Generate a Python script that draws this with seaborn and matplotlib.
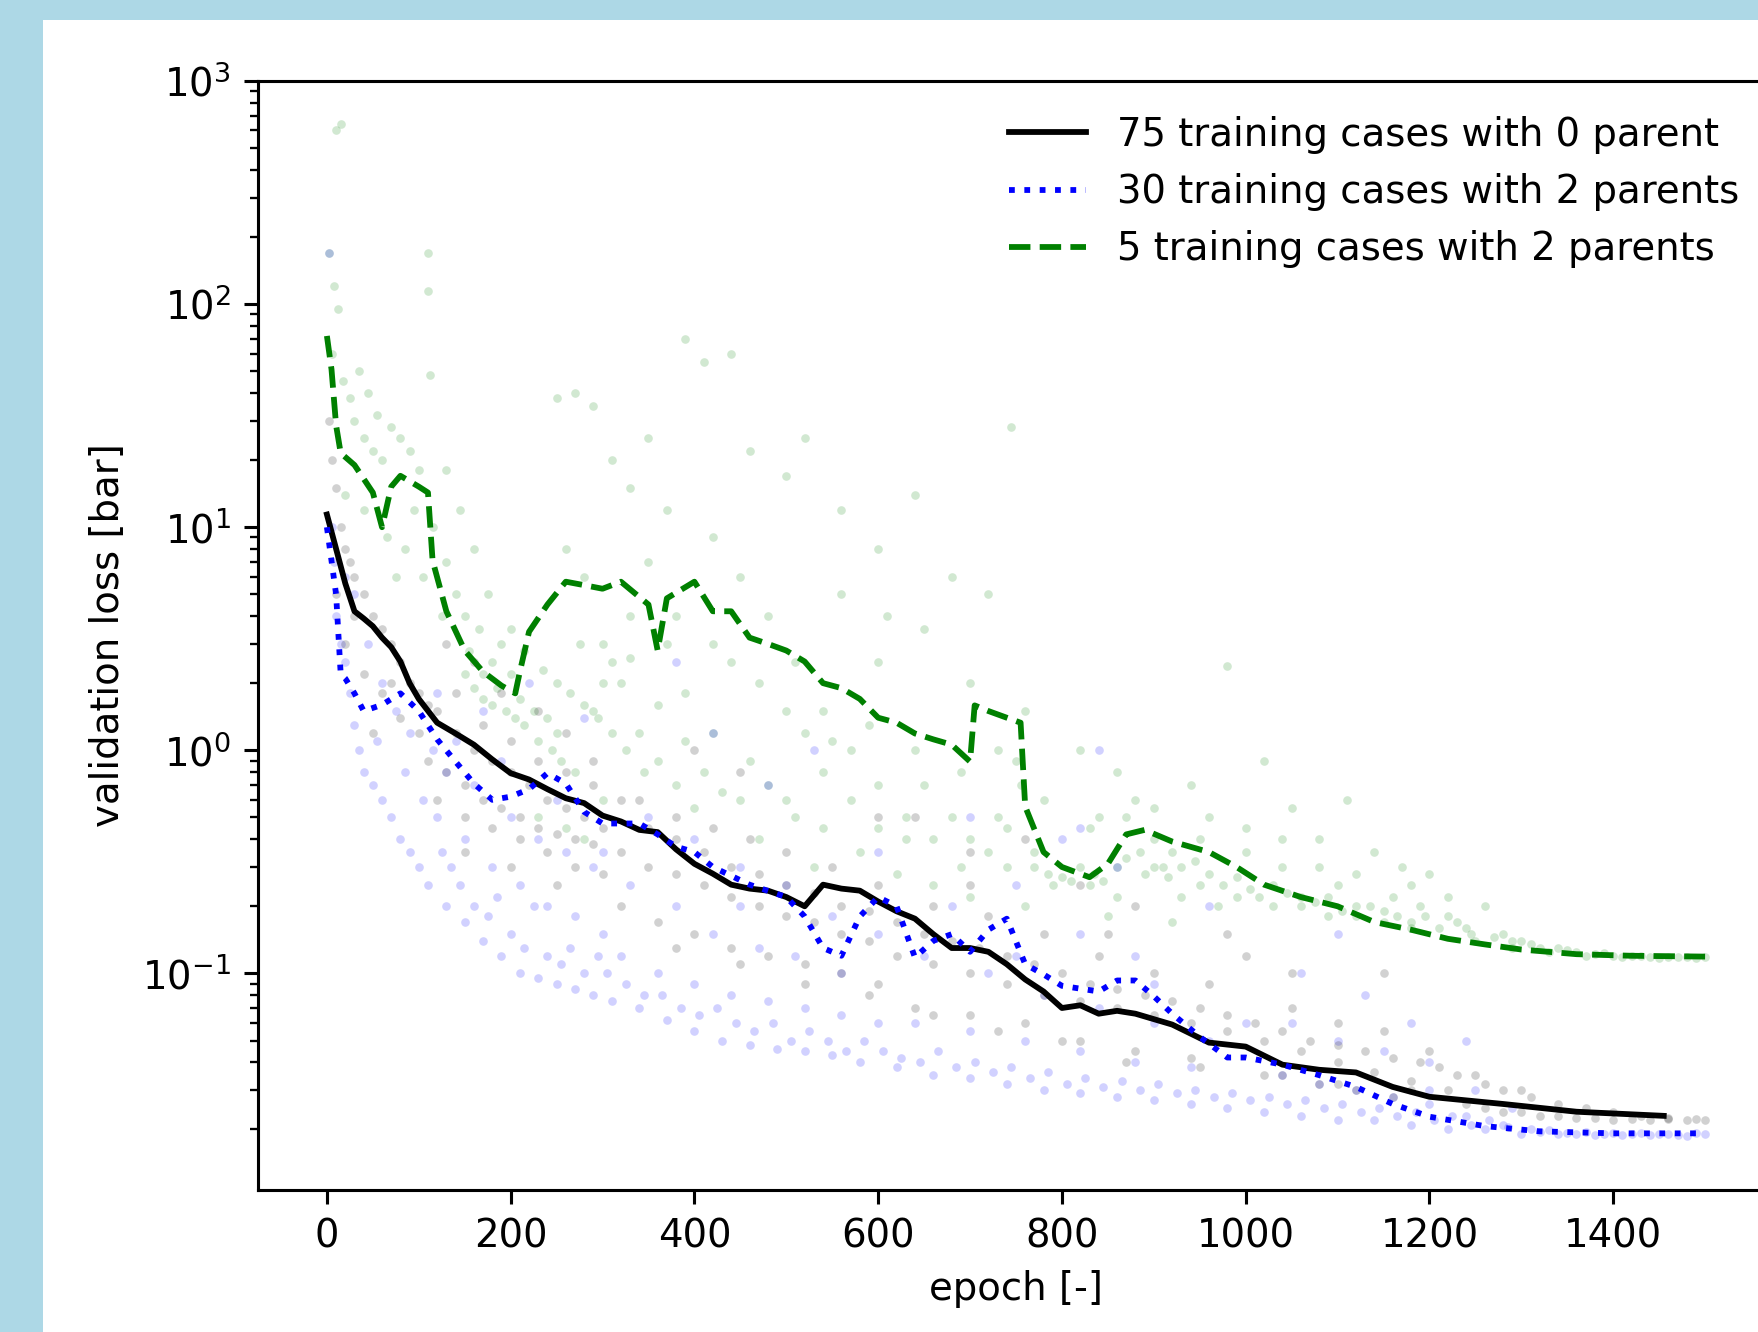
import numpy as np
import matplotlib
matplotlib.use('Agg')
import matplotlib.pyplot as plt
import seaborn as sns
from matplotlib.patches import Rectangle


# ---------------------------------------------------------------- lines
black_x = [0, 10, 20, 30, 40, 50, 60, 70, 80, 90, 100, 120, 140, 160, 180, 200, 220, 240, 260, 280,
           300, 320, 340, 360, 380, 400, 420, 440, 460, 480, 500, 520, 540, 560, 580, 600, 620, 640,
           660, 680, 700, 720, 740, 760, 780, 800, 820, 840, 860, 880, 920, 960, 1000, 1040, 1080,
           1120, 1160, 1200, 1280, 1360, 1455]
black_y = [11.4, 8, 5.6, 4.2, 3.9, 3.6, 3.2, 2.9, 2.5, 2.0, 1.7, 1.33, 1.19, 1.06, 0.91, 0.79, 0.74,
           0.67, 0.61, 0.58, 0.51, 0.48, 0.44, 0.43, 0.36, 0.31, 0.28, 0.25, 0.24, 0.235, 0.22, 0.2,
           0.25, 0.24, 0.235, 0.21, 0.19, 0.176, 0.15, 0.13, 0.13, 0.125, 0.11, 0.094, 0.083, 0.07,
           0.072, 0.066, 0.068, 0.066, 0.059, 0.049, 0.047, 0.039, 0.037, 0.036, 0.031, 0.028,
           0.026, 0.024, 0.023]

blue_x = [0, 10, 15, 20, 30, 40, 60, 80, 100, 120, 140, 160, 180, 200, 220, 240, 260, 280, 300,
          340, 360, 380, 400, 420, 460, 500, 520, 540, 560, 580, 600, 620, 640, 660, 680, 700, 720,
          740, 760, 780, 800, 840, 860, 880, 900, 920, 950, 980, 1000, 1040, 1080, 1120, 1160,
          1200, 1260, 1320, 1400, 1500]
blue_y = [10, 5, 2.2, 2.1, 1.8, 1.5, 1.6, 1.8, 1.5, 1.12, 0.89, 0.71, 0.6, 0.62, 0.67, 0.79, 0.71,
          0.53, 0.47, 0.47, 0.42, 0.37, 0.35, 0.3, 0.25, 0.22, 0.18, 0.13, 0.12, 0.18, 0.22, 0.2,
          0.118, 0.14, 0.15, 0.125, 0.157, 0.176, 0.11, 0.099, 0.088, 0.083, 0.093, 0.093, 0.079,
          0.066, 0.052, 0.042, 0.042, 0.039, 0.035, 0.031, 0.026, 0.0228, 0.0207, 0.0196, 0.0192,
          0.0192]

green_x = [0, 5, 10, 15, 30, 50, 60, 70, 80, 100, 110, 115, 130, 150, 170, 190, 205, 210, 220, 240,
           260, 280, 300, 320, 350, 360, 370, 400, 420, 440, 460, 480, 500, 520, 540, 560, 580, 600,
           620, 640, 660, 680, 700, 705, 720, 740, 755, 760, 780, 800, 830, 850, 870, 890, 920, 960,
           990, 1020, 1060, 1100, 1140, 1180, 1220, 1260, 1300, 1360, 1420, 1500]
green_y = [72, 51, 28.6, 21.5, 19, 14.3, 10, 15.2, 17, 15.2, 14.3, 7.1, 4.2, 2.8, 2.25, 1.95, 1.8,
           2.25, 3.4, 4.5, 5.7, 5.5, 5.3, 5.7, 4.5, 2.8, 4.8, 5.7, 4.2, 4.2, 3.2, 3.0, 2.8, 2.5, 2.0,
           1.9, 1.7, 1.4, 1.33, 1.19, 1.12, 1.06, 0.89, 1.59, 1.5, 1.4, 1.33, 0.56, 0.35, 0.30, 0.27,
           0.31, 0.42, 0.44, 0.39, 0.35, 0.30, 0.25, 0.22, 0.20, 0.17, 0.157, 0.143, 0.135, 0.128,
           0.122, 0.12, 0.119]

# ---------------------------------------------------------------- scatter clouds
green_pts = [(2, 170), (10, 600), (15, 640), (8, 120), (12, 95), (5, 60), (18, 45), (25, 38), (30, 30),
             (40, 25), (50, 22), (60, 20), (35, 50), (45, 40), (55, 32), (70, 28), (80, 25), (90, 22),
             (110, 170), (110, 115), (112, 48), (100, 18), (20, 14), (40, 12), (65, 9), (85, 8), (95, 12),
             (115, 10), (75, 6), (105, 6), (130, 7), (140, 5), (150, 4), (165, 3.5), (180, 2.5), (200, 2.2),
             (190, 3), (175, 5), (160, 8), (145, 12), (130, 18), (125, 4), (155, 2.8), (170, 2.2),
             (185, 1.9), (210, 1.7), (225, 1.5), (240, 1.4),
             (250, 38), (270, 40), (290, 35), (310, 20), (330, 15), (350, 25), (370, 12), (390, 70),
             (260, 8), (280, 6), (300, 3), (320, 2), (340, 1.2), (360, 0.9), (380, 0.7), (400, 0.55),
             (250, 1.2), (270, 0.8), (290, 1.5), (310, 2.5), (330, 4), (350, 7), (370, 3), (390, 1.8),
             (230, 0.5), (260, 0.45), (300, 0.6), (280, 0.4),
             (410, 55), (440, 60), (460, 22), (500, 17), (520, 25), (560, 12), (600, 8), (640, 14),
             (680, 6), (420, 9), (450, 6), (480, 4), (510, 2.5), (540, 1.5), (570, 1), (600, 0.7),
             (630, 0.5), (660, 0.4), (690, 0.3), (420, 1.2), (460, 0.9), (500, 0.6), (540, 0.45),
             (580, 0.35), (620, 0.28), (660, 0.25), (700, 0.22), (440, 2.5), (520, 1.2), (600, 2.5),
             (650, 3.5), (700, 2), (560, 5), (610, 4), (470, 0.4), (530, 0.3),
             (720, 5), (745, 28), (760, 1.5), (780, 0.6), (770, 0.35), (790, 0.25), (730, 0.5),
             (750, 0.9), (760, 0.2), (740, 0.3),
             (820, 1), (840, 0.5), (860, 0.8), (880, 0.6), (900, 0.4), (920, 0.35), (940, 0.7),
             (960, 0.5), (980, 2.4), (1000, 0.45), (830, 0.25), (860, 0.22), (890, 0.28), (910, 0.3),
             (930, 0.22), (950, 0.25), (970, 0.2), (990, 0.22), (850, 0.18), (920, 0.17),
             (1020, 0.9), (1050, 0.55), (1080, 0.4), (1110, 0.6), (1140, 0.35), (1170, 0.3), (1200, 0.28),
             (1030, 0.2), (1060, 0.22), (1090, 0.18), (1120, 0.2), (1150, 0.17), (1180, 0.16),
             (1040, 0.3), (1100, 0.25), (1160, 0.22), (1190, 0.2),
             (1220, 0.18), (1240, 0.16), (1260, 0.2), (1280, 0.15), (1300, 0.14), (1320, 0.13),
             (1340, 0.13), (1360, 0.125), (1380, 0.122), (1400, 0.12), (1420, 0.12), (1440, 0.119),
             (1460, 0.118), (1480, 0.118), (1500, 0.118), (1250, 0.14), (1290, 0.13), (1330, 0.125),
             (1370, 0.12), (1410, 0.118), (1450, 0.117), (1490, 0.117),
             # denser band under the dashed line
             (150, 2.2), (160, 1.9), (170, 1.7), (180, 1.6), (195, 1.5), (205, 1.4), (215, 1.3),
             (230, 1.1), (245, 1), (255, 0.9), (200, 3.5), (215, 2.8), (235, 2.3), (250, 2), (265, 1.8),
             (280, 1.6), (295, 1.4), (310, 1.2), (325, 1), (345, 0.8), (275, 3), (300, 2), (330, 2.6),
             (360, 1.6), (390, 1.1), (410, 0.8), (430, 0.65), (450, 0.6), (480, 0.7), (510, 0.5),
             (540, 0.8), (570, 0.6), (600, 0.45), (630, 0.4), (650, 0.7), (680, 0.5), (700, 0.4),
             (720, 0.35), (740, 0.45), (380, 4), (420, 3), (470, 2), (500, 1.5), (550, 1.1), (590, 1.3),
             (640, 1), (690, 0.8), (730, 1), (755, 0.7),
             (770, 0.3), (785, 0.28), (800, 0.27), (810, 0.26), (820, 0.3), (835, 0.28), (845, 0.26),
             (860, 0.3), (870, 0.33), (885, 0.35), (900, 0.3), (915, 0.27), (930, 0.3), (945, 0.32),
             (960, 0.28), (975, 0.25), (990, 0.27), (1005, 0.24), (1015, 0.22), (1030, 0.25),
             (1045, 0.23), (1060, 0.2), (1075, 0.21), (1090, 0.22), (1105, 0.19), (1120, 0.18),
             (1135, 0.2), (1150, 0.19), (1165, 0.18), (1180, 0.17), (1195, 0.18), (1210, 0.16),
             (1230, 0.17), (1245, 0.15), (1270, 0.145), (1290, 0.14), (1310, 0.135), (1350, 0.128),
             (1390, 0.123), (1430, 0.12), (1470, 0.118),
             (830, 0.45), (870, 0.5), (900, 0.55), (950, 0.4), (1000, 0.35), (1040, 0.4), (1080, 0.3),
             (1120, 0.28), (1180, 0.25), (1220, 0.22)]

blue_pts = [(2, 170), (5, 10), (8, 7), (10, 4), (15, 3), (20, 2.5), (25, 1.8), (30, 1.3), (35, 1),
            (40, 0.8), (50, 0.7), (60, 0.6), (70, 0.5), (80, 0.4), (90, 0.35), (100, 0.3), (30, 5),
            (45, 3), (60, 2), (75, 1.5), (90, 1.2), (55, 1.1), (85, 0.8), (20, 6),
            (110, 0.25), (130, 0.2), (150, 0.17), (170, 0.14), (190, 0.12), (210, 0.1), (230, 0.095),
            (250, 0.09), (270, 0.085), (290, 0.08), (120, 0.5), (150, 0.4), (180, 0.3), (210, 0.25),
            (240, 0.2), (270, 0.18), (300, 0.15), (130, 0.8), (160, 0.7), (200, 0.5), (230, 0.4),
            (260, 0.35), (290, 0.3), (140, 1.1), (190, 0.9), (250, 0.6), (220, 2), (280, 1.4),
            (170, 1.5), (120, 1.8),
            (310, 0.075), (340, 0.07), (370, 0.062), (400, 0.055), (430, 0.05), (460, 0.048),
            (490, 0.046), (520, 0.045), (550, 0.043), (580, 0.04), (320, 0.12), (360, 0.1), (400, 0.09),
            (440, 0.08), (480, 0.075), (520, 0.07), (560, 0.065), (600, 0.06), (330, 0.25), (380, 0.2),
            (420, 0.15), (470, 0.13), (510, 0.12), (560, 0.1), (350, 0.5), (400, 0.4), (450, 0.3),
            (500, 0.25), (550, 0.18), (420, 1.2), (480, 0.7), (600, 0.35), (380, 2.5), (530, 1),
            (620, 0.038), (660, 0.035), (700, 0.034), (740, 0.032), (780, 0.03), (820, 0.029),
            (860, 0.028), (900, 0.027), (940, 0.026), (980, 0.025), (640, 0.06), (700, 0.055),
            (760, 0.05), (820, 0.045), (880, 0.04), (940, 0.038), (650, 0.12), (720, 0.1), (780, 0.08),
            (840, 0.07), (900, 0.06), (960, 0.05), (680, 0.2), (750, 0.25), (820, 0.15), (880, 0.12),
            (700, 0.5), (800, 0.4), (860, 0.3), (960, 0.2), (840, 1), (820, 0.45),
            (1020, 0.024), (1060, 0.023), (1100, 0.022), (1140, 0.022), (1180, 0.021), (1220, 0.02),
            (1040, 0.035), (1080, 0.032), (1120, 0.03), (1160, 0.028), (1200, 0.026), (1050, 0.06),
            (1100, 0.05), (1150, 0.045), (1200, 0.04), (1060, 0.1), (1130, 0.08), (1180, 0.06),
            (1240, 0.023), (1260, 0.02), (1280, 0.021), (1300, 0.019), (1320, 0.0195), (1340, 0.019),
            (1360, 0.019), (1380, 0.0188), (1400, 0.0192), (1420, 0.019), (1440, 0.0188), (1460, 0.019),
            (1480, 0.0187), (1500, 0.019), (1250, 0.03), (1290, 0.025), (1100, 0.15), (1240, 0.05),
            # denser lower edge
            (105, 0.6), (115, 1), (125, 0.35), (135, 0.3), (145, 0.25), (160, 0.2), (175, 0.18),
            (185, 0.22), (200, 0.15), (215, 0.13), (225, 0.2), (240, 0.12), (255, 0.11), (265, 0.13),
            (280, 0.1), (295, 0.12), (305, 0.1), (325, 0.09), (345, 0.08), (365, 0.08), (385, 0.07),
            (405, 0.065), (425, 0.07), (445, 0.06), (465, 0.055), (485, 0.06), (505, 0.05), (525, 0.055),
            (545, 0.05), (565, 0.045), (585, 0.05), (605, 0.045), (625, 0.042), (645, 0.04), (665, 0.045),
            (685, 0.038), (705, 0.04), (725, 0.036), (745, 0.038), (765, 0.034), (785, 0.036),
            (805, 0.032), (825, 0.034), (845, 0.031), (865, 0.033), (885, 0.03), (905, 0.032),
            (925, 0.029), (945, 0.03), (965, 0.028), (985, 0.029), (1005, 0.027), (1025, 0.028),
            (1045, 0.026), (1065, 0.027), (1085, 0.025), (1105, 0.026), (1125, 0.024), (1145, 0.025),
            (1165, 0.023), (1185, 0.024), (1205, 0.022), (1225, 0.023), (1245, 0.021), (1265, 0.022),
            (1285, 0.0205), (1310, 0.02), (1330, 0.0198), (1350, 0.0192), (1370, 0.0195), (1390, 0.019),
            (1410, 0.0188), (1430, 0.0192), (1450, 0.019), (1470, 0.0188), (1490, 0.0192),
            (300, 0.35), (450, 0.2), (600, 0.15), (750, 0.12), (900, 0.09), (1000, 0.06), (1200, 0.03)]

black_pts = [(2, 30), (5, 20), (10, 15), (15, 10), (20, 8), (25, 7), (30, 6), (40, 5), (50, 4),
             (60, 3.5), (70, 3), (80, 2.5), (90, 2), (100, 1.8), (20, 3), (40, 2.2), (60, 1.8), (80, 1.4),
             (100, 1.2), (30, 4), (50, 1.2), (70, 2), (10, 5),
             (120, 1.5), (140, 1.2), (160, 1), (180, 0.9), (200, 0.8), (220, 0.7), (240, 0.6),
             (260, 0.55), (280, 0.5), (300, 0.45), (120, 0.6), (150, 0.5), (180, 0.45), (210, 0.4),
             (240, 0.35), (270, 0.3), (300, 0.28), (130, 3), (160, 2.5), (190, 1.8), (230, 1.5),
             (260, 1.2), (290, 0.9), (150, 0.35), (200, 0.3), (250, 0.25),
             (320, 0.35), (350, 0.3), (380, 0.28), (410, 0.25), (440, 0.22), (470, 0.2), (500, 0.18),
             (530, 0.17), (560, 0.15), (590, 0.14), (320, 0.2), (360, 0.17), (400, 0.15), (440, 0.13),
             (480, 0.12), (520, 0.11), (560, 0.1), (600, 0.09), (340, 0.6), (380, 0.5), (420, 0.45),
             (460, 0.4), (500, 0.35), (550, 0.3), (600, 0.25), (450, 0.8), (400, 1),
             (620, 0.12), (660, 0.11), (700, 0.1), (740, 0.09), (780, 0.08), (820, 0.075), (860, 0.07),
             (900, 0.065), (940, 0.06), (980, 0.055), (640, 0.07), (700, 0.065), (760, 0.06),
             (820, 0.05), (880, 0.045), (940, 0.042), (660, 0.2), (720, 0.18), (780, 0.15), (840, 0.12),
             (900, 0.1), (960, 0.09), (700, 0.35), (760, 0.4), (820, 0.25), (880, 0.2), (640, 0.5),
             (980, 0.15),
             (1020, 0.05), (1060, 0.045), (1100, 0.04), (1140, 0.036), (1180, 0.033), (1220, 0.03),
             (1040, 0.035), (1080, 0.032), (1120, 0.03), (1160, 0.028), (1050, 0.07), (1100, 0.06),
             (1150, 0.055), (1200, 0.045), (1250, 0.035), (1300, 0.03), (1240, 0.026), (1260, 0.025),
             (1280, 0.024), (1300, 0.024), (1320, 0.023), (1340, 0.023), (1360, 0.0225), (1380, 0.0225),
             (1400, 0.022), (1420, 0.0222), (1440, 0.022), (1460, 0.0222), (1480, 0.022), (1500, 0.022),
             (1150, 0.1), (1000, 0.12),
             # denser middle band
             (110, 0.9), (130, 0.8), (150, 0.7), (170, 0.6), (190, 0.55), (210, 0.5), (230, 0.45),
             (250, 0.42), (270, 0.4), (290, 0.38), (110, 1.6), (140, 1.8), (170, 1.3), (200, 1.1),
             (230, 0.9), (260, 0.8), (290, 0.7), (320, 0.6), (350, 0.45), (380, 0.4), (410, 0.35),
             (440, 0.3), (470, 0.28), (500, 0.25), (530, 0.23), (560, 0.2), (590, 0.19), (620, 0.17),
             (650, 0.15), (680, 0.14), (710, 0.13), (740, 0.12), (770, 0.11), (800, 0.1), (830, 0.09),
             (860, 0.085), (890, 0.08), (920, 0.075), (950, 0.07), (980, 0.065), (1010, 0.06),
             (1040, 0.055), (1070, 0.05), (1100, 0.048), (1130, 0.045), (1160, 0.042), (1190, 0.04),
             (1210, 0.038), (1230, 0.035), (1260, 0.032), (1280, 0.03), (1310, 0.028), (1340, 0.026),
             (1370, 0.025), (1400, 0.024), (1430, 0.023), (1460, 0.0225), (1490, 0.0222),
             (380, 0.13), (450, 0.11), (520, 0.09), (590, 0.08), (660, 0.065), (730, 0.055), (800, 0.05),
             (870, 0.04), (950, 0.038), (1020, 0.035), (1100, 0.032), (1180, 0.03), (600, 0.5),
             (700, 0.25), (850, 0.15), (1050, 0.1)]

labels = ['75 training cases with 0 parent',
          '30 training cases with 2 parents',
          '5 training cases with 2 parents']


# ---------------------------------------------------------------- figure
DPI = 278
fig = plt.figure(figsize=(1758 / DPI, 1332 / DPI), dpi=DPI, facecolor='#add8e6')
# white canvas of the original image, shifted and cut off at the right
fig.patches.append(Rectangle((43 / 1758, 0), 1, 1 - 20 / 1332, transform=fig.transFigure,
                             facecolor='white', edgecolor='none', zorder=-10))

ax = fig.add_axes([258 / 1758, 1 - 1190 / 1332, (1774 - 258) / 1758, (1190 - 81) / 1332])
ax.set_zorder(1)

for pts, col in [(green_pts, 'green'), (blue_pts, 'blue'), (black_pts, 'black')]:
    px, py = zip(*pts)
    sns.scatterplot(x=list(px), y=list(py), color=col, alpha=0.18, s=5, linewidth=0, ax=ax)

sns.lineplot(x=black_x, y=black_y, color='black', linestyle='-', label=labels[0], ax=ax)
sns.lineplot(x=blue_x, y=blue_y, color='blue', linestyle=':', label=labels[1], ax=ax)
sns.lineplot(x=green_x, y=green_y, color='green', linestyle='--', label=labels[2], ax=ax)

ax.set_yscale('log')
ax.set_xlim(-75, 1575)
ax.set_ylim(0.0107, 1000)
ax.set_xlabel('epoch [-]')
ax.set_ylabel('validation loss [bar]')
ax.legend(loc='upper right', frameon=False)

fig.savefig('out.png', dpi=DPI, facecolor=fig.get_facecolor())
